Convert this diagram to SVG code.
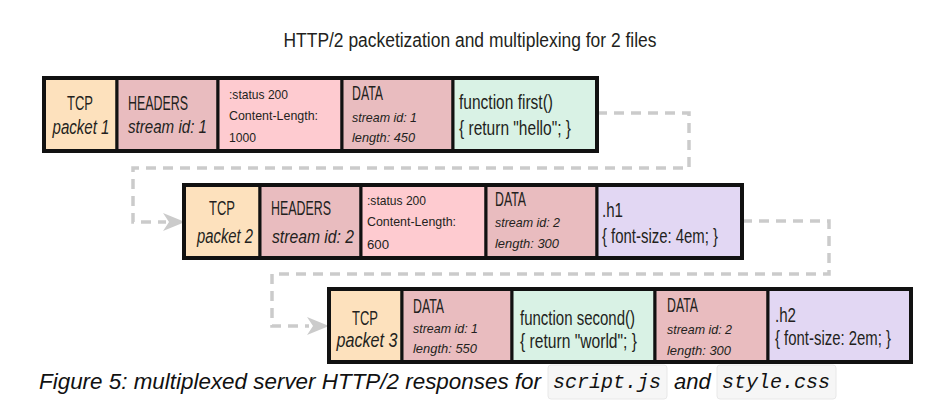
<svg xmlns="http://www.w3.org/2000/svg" width="944" height="411" viewBox="0 0 944 411">
<defs>
<style>
.t{font-family:"Liberation Sans",Arial,sans-serif;fill:#231f20;}
.big{font-size:20.5px;}
.mid{font-size:18px;}
.sm{font-size:13.5px;}
.it{font-style:italic;}
.c{text-anchor:middle;}
.cell{stroke:#111;stroke-width:3;}
.frame{fill:none;stroke:#111;stroke-width:4;}
.tcp{fill:#fde1bd;}
.hdr{fill:#e9bcbf;}
.st{fill:#fecbd0;}
.js{fill:#d9f2e5;}
.css{fill:#e2d7f3;}
.conn{fill:none;stroke:#cbcbcb;stroke-width:3.5;stroke-dasharray:10 7;}
.arr{fill:#cbcbcb;}
.cap{font-family:"Liberation Sans",Arial,sans-serif;font-style:italic;font-size:22px;fill:#111;}
.code{font-family:"Liberation Mono","Courier New",monospace;font-style:italic;font-size:20px;fill:#111;}
.cbox{fill:#f6f6f6;stroke:#e8e8e8;stroke-width:1;}
</style>
</defs>
<rect width="944" height="411" fill="#ffffff"/>
<text class="t c" x="470" y="47" font-size="19.5" textLength="373" lengthAdjust="spacingAndGlyphs">HTTP/2 packetization and multiplexing for 2 files</text>

<g id="connectors">
<path class="conn" d="M597,113 H689 V168 H133 V222 H166"/>
<path class="arr" d="M185,222 L163,213 L169,222 L163,231 Z"/>
<path class="conn" d="M742,221 H829 V274 H272 V326 H309"/>
<path class="arr" d="M329,326 L307,317 L313,326 L307,335 Z"/>
</g>

<!-- Packet 1 -->
<g id="packet1">
<g id="p1-tcp"><rect class="cell tcp" x="44" y="78" width="73" height="73"/>
<text class="t big c" x="80" y="110" textLength="26" lengthAdjust="spacingAndGlyphs">TCP</text>
<text class="t big c it" x="81" y="134" textLength="57" lengthAdjust="spacingAndGlyphs">packet 1</text></g>
<g id="p1-headers"><rect class="cell hdr" x="117" y="78" width="101" height="73"/>
<text class="t big" x="128" y="110" textLength="60" lengthAdjust="spacingAndGlyphs">HEADERS</text>
<text class="t mid it" x="128" y="133" textLength="79" lengthAdjust="spacingAndGlyphs">stream id: 1</text></g>
<g id="p1-status"><rect class="cell st" x="218" y="78" width="124" height="73"/>
<text class="t sm" x="229" y="99" textLength="59" lengthAdjust="spacingAndGlyphs">:status 200</text>
<text class="t sm" x="229" y="120" textLength="89" lengthAdjust="spacingAndGlyphs">Content-Length:</text>
<text class="t sm" x="229" y="142" textLength="27" lengthAdjust="spacingAndGlyphs">1000</text></g>
<g id="p1-data"><rect class="cell hdr" x="342" y="78" width="111" height="73"/>
<text class="t big" x="352" y="100" textLength="31" lengthAdjust="spacingAndGlyphs">DATA</text>
<text class="t sm it" x="352" y="122" textLength="65" lengthAdjust="spacingAndGlyphs">stream id: 1</text>
<text class="t sm it" x="352" y="142" textLength="63" lengthAdjust="spacingAndGlyphs">length: 450</text></g>
<g id="p1-js"><rect class="cell js" x="453" y="78" width="144" height="73"/>
<text class="t big" x="459" y="109" textLength="94" lengthAdjust="spacingAndGlyphs">function first()</text>
<text class="t big" x="459" y="135" textLength="112" lengthAdjust="spacingAndGlyphs">{ return "hello"; }</text></g>
<rect class="frame" x="44" y="78" width="553" height="73"/>
</g>

<!-- Packet 2 -->
<g id="packet2">
<g id="p2-tcp"><rect class="cell tcp" x="184" y="185" width="76" height="73"/>
<text class="t big c" x="222" y="215" textLength="26" lengthAdjust="spacingAndGlyphs">TCP</text>
<text class="t big c it" x="225" y="243" textLength="56" lengthAdjust="spacingAndGlyphs">packet 2</text></g>
<g id="p2-headers"><rect class="cell hdr" x="260" y="185" width="101" height="73"/>
<text class="t big" x="271" y="215" textLength="60" lengthAdjust="spacingAndGlyphs">HEADERS</text>
<text class="t mid it" x="272" y="243" textLength="82" lengthAdjust="spacingAndGlyphs">stream id: 2</text></g>
<g id="p2-status"><rect class="cell st" x="361" y="185" width="125" height="73"/>
<text class="t sm" x="367" y="205" textLength="59" lengthAdjust="spacingAndGlyphs">:status 200</text>
<text class="t sm" x="367" y="226" textLength="89" lengthAdjust="spacingAndGlyphs">Content-Length:</text>
<text class="t sm" x="367" y="249" textLength="22" lengthAdjust="spacingAndGlyphs">600</text></g>
<g id="p2-data"><rect class="cell hdr" x="486" y="185" width="111" height="73"/>
<text class="t big" x="495" y="206" textLength="31" lengthAdjust="spacingAndGlyphs">DATA</text>
<text class="t sm it" x="495" y="227" textLength="65" lengthAdjust="spacingAndGlyphs">stream id: 2</text>
<text class="t sm it" x="495" y="248" textLength="64" lengthAdjust="spacingAndGlyphs">length: 300</text></g>
<g id="p2-css"><rect class="cell css" x="597" y="185" width="145" height="73"/>
<text class="t big" x="602" y="217" textLength="21" lengthAdjust="spacingAndGlyphs">.h1</text>
<text class="t big" x="602" y="243" textLength="116" lengthAdjust="spacingAndGlyphs">{ font-size: 4em; }</text></g>
<rect class="frame" x="184" y="185" width="558" height="73"/>
</g>

<!-- Packet 3 -->
<g id="packet3">
<g id="p3-tcp"><rect class="cell tcp" x="329" y="289" width="73" height="73"/>
<text class="t big c" x="365" y="325" textLength="26" lengthAdjust="spacingAndGlyphs">TCP</text>
<text class="t big c it" x="367" y="347" textLength="61" lengthAdjust="spacingAndGlyphs">packet 3</text></g>
<g id="p3-data1"><rect class="cell hdr" x="402" y="289" width="110" height="73"/>
<text class="t big" x="413" y="313" textLength="31" lengthAdjust="spacingAndGlyphs">DATA</text>
<text class="t sm it" x="413" y="333" textLength="65" lengthAdjust="spacingAndGlyphs">stream id: 1</text>
<text class="t sm it" x="413" y="353" textLength="64" lengthAdjust="spacingAndGlyphs">length: 550</text></g>
<g id="p3-js"><rect class="cell js" x="512" y="289" width="143" height="73"/>
<text class="t big" x="520" y="325" textLength="115" lengthAdjust="spacingAndGlyphs">function second()</text>
<text class="t big" x="520" y="348" textLength="117" lengthAdjust="spacingAndGlyphs">{ return "world"; }</text></g>
<g id="p3-data2"><rect class="cell hdr" x="655" y="289" width="113" height="73"/>
<text class="t big" x="667" y="312" textLength="31" lengthAdjust="spacingAndGlyphs">DATA</text>
<text class="t sm it" x="667" y="334" textLength="65" lengthAdjust="spacingAndGlyphs">stream id: 2</text>
<text class="t sm it" x="667" y="355" textLength="64" lengthAdjust="spacingAndGlyphs">length: 300</text></g>
<g id="p3-css"><rect class="cell css" x="768" y="289" width="143" height="73"/>
<text class="t big" x="775" y="322" textLength="21" lengthAdjust="spacingAndGlyphs">.h2</text>
<text class="t big" x="775" y="345" textLength="116" lengthAdjust="spacingAndGlyphs">{ font-size: 2em; }</text></g>
<rect class="frame" x="329" y="289" width="582" height="73"/>
</g>

<g id="caption">
<rect class="cbox" x="548" y="365" width="119" height="34" rx="3"/>
<rect class="cbox" x="717" y="365" width="119" height="34" rx="3"/>
<text class="cap" x="39" y="389" textLength="502" lengthAdjust="spacingAndGlyphs">Figure 5: multiplexed server HTTP/2 responses for</text>
<text class="code" x="553" y="388">script.js</text>
<text class="cap" x="674" y="389">and</text>
<text class="code" x="722" y="388">style.css</text>
</g>
</svg>
